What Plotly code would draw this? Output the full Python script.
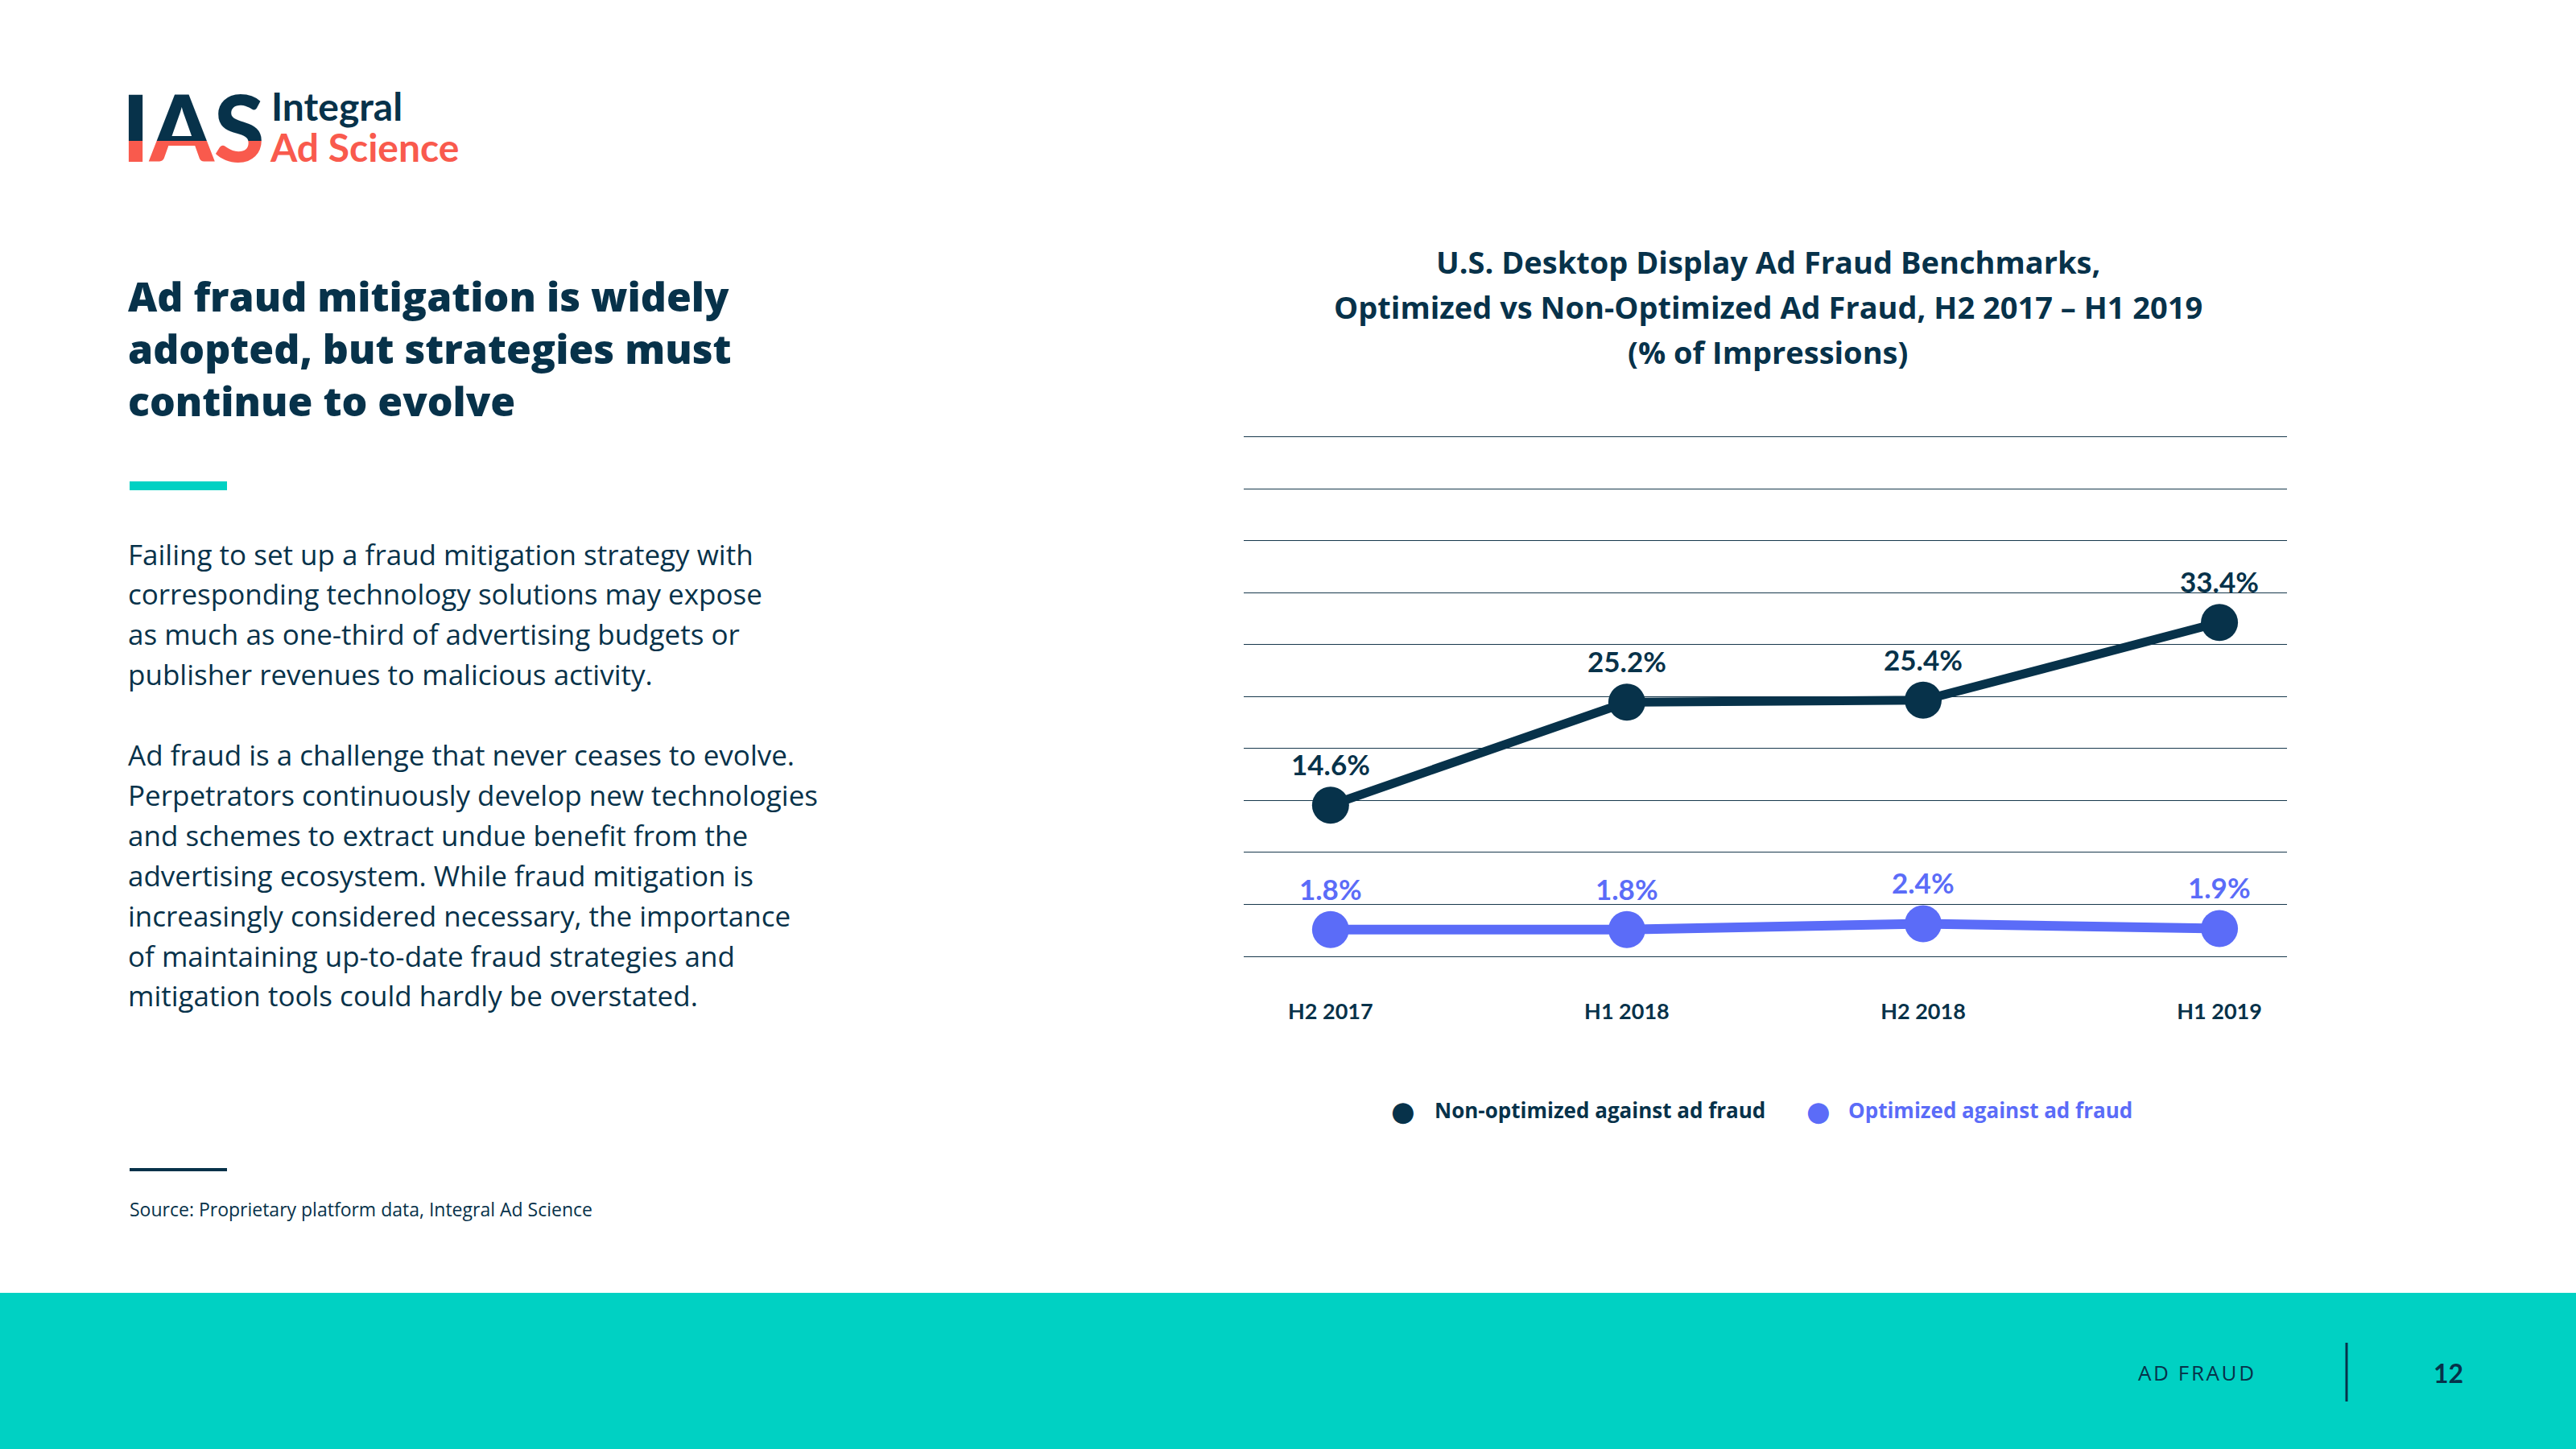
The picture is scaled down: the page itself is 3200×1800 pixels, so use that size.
import plotly.graph_objects as go

# ---------------- data ----------------
periods = ["H2 2017", "H1 2018", "H2 2018", "H1 2019"]
non_optimized = [14.6, 25.2, 25.4, 33.4]
optimized = [1.8, 1.8, 2.4, 1.9]
series_names = ["Non-optimized against ad fraud", "Optimized against ad fraud"]

title_lines = [
    "U.S. Desktop Display Ad Fraud Benchmarks,",
    "Optimized vs Non-Optimized Ad Fraud, H2 2017 \u2013 H1 2019",
    "(% of Impressions)",
]
headline = "Ad fraud mitigation is widely<br>adopted, but strategies must<br>continue to evolve"
body_lines = [
    "Failing to set up a fraud mitigation strategy with",
    "corresponding technology solutions may expose",
    "as much as one-third of advertising budgets or",
    "publisher revenues to malicious activity.",
    "",
    "Ad fraud is a challenge that never ceases to evolve.",
    "Perpetrators continuously develop new technologies",
    "and schemes to extract undue benefit from the",
    "advertising ecosystem. While fraud mitigation is",
    "increasingly considered necessary, the importance",
    "of maintaining up-to-date fraud strategies and",
    "mitigation tools could hardly be overstated.",
]
source_text = "Source: Proprietary platform data, Integral Ad Science"
footer_section = "AD FRAUD"
page_number = "12"

# ---------------- style ----------------
W, H = 3200, 1800
NAVY = "#07324A"
BLUE = "#5B6CF8"
TEAL = "#00D1C3"
CORAL = "#F95A4D"
GRID = "#17384C"
HEAVY = "Lato"
WIDE = "Open Sans"
BODY = "Open Sans"


def px(x):
    return x / W


def py(y):
    return 1 - y / H


fig = go.Figure()

# main chart traces
fig.add_trace(go.Scatter(
    x=periods, y=non_optimized, name=series_names[0], mode="lines+markers",
    line=dict(color=NAVY, width=11), marker=dict(color=NAVY, size=46),
    showlegend=False, hoverinfo="skip", cliponaxis=False,
))
fig.add_trace(go.Scatter(
    x=periods, y=optimized, name=series_names[1], mode="lines+markers",
    line=dict(color=BLUE, width=12), marker=dict(color=BLUE, size=46),
    showlegend=False, hoverinfo="skip", cliponaxis=False,
))

annotations = []
# data labels
for vals, col in ((non_optimized, NAVY), (optimized, BLUE)):
    for p, v in zip(periods, vals):
        annotations.append(dict(
            x=p, y=v, xref="x", yref="y", text=f"{v:.1f}%", showarrow=False,
            yshift=51, font=dict(family=HEAVY, size=35, color=col, weight=700),
        ))

# chart title
for i, t in enumerate(title_lines):
    annotations.append(dict(
        x=px(2196), y=py(325 + 56 * i), xref="paper", yref="paper", text=t,
        showarrow=False, xanchor="center", yanchor="middle",
        font=dict(family=WIDE, size=38, color=NAVY, weight=700),
    ))

# custom legend
legend_items = [
    (1743, 1780, series_names[0], NAVY),
    (2259, 2294, series_names[1], BLUE),
]
for mx, tx, name, col in legend_items:
    annotations.append(dict(
        x=px(mx), y=py(1380), xref="paper", yref="paper", text="\u25cf",
        showarrow=False, xanchor="center", yanchor="middle",
        font=dict(family="DejaVu Sans", size=34, color=col),
    ))
    annotations.append(dict(
        x=px(tx), y=py(1379), xref="paper", yref="paper", text=name,
        showarrow=False, xanchor="left", yanchor="middle",
        font=dict(family=WIDE, size=26, color=col, weight=700),
    ))

# logo words
annotations.append(dict(
    x=px(335), y=py(131), xref="paper", yref="paper", text="Integral",
    showarrow=False, xanchor="left", yanchor="middle",
    font=dict(family=HEAVY, size=48, color=NAVY, weight=700),
))
annotations.append(dict(
    x=px(333), y=py(182), xref="paper", yref="paper", text="Ad Science",
    showarrow=False, xanchor="left", yanchor="middle",
    font=dict(family=HEAVY, size=48, color=CORAL, weight=700),
))

# headline
annotations.append(dict(
    x=px(157), y=py(433), xref="paper", yref="paper", text=headline,
    showarrow=False, xanchor="left", yanchor="middle", align="left",
    font=dict(family=WIDE, size=50, color=NAVY, weight=800),
))

# body text lines
for i, t in enumerate(body_lines):
    if not t:
        continue
    annotations.append(dict(
        x=px(157), y=py(688 + 49.9 * i), xref="paper", yref="paper", text=t,
        showarrow=False, xanchor="left", yanchor="middle",
        font=dict(family=BODY, size=35, color=NAVY),
    ))

# source
annotations.append(dict(
    x=px(159), y=py(1502), xref="paper", yref="paper", text=source_text,
    showarrow=False, xanchor="left", yanchor="middle",
    font=dict(family=BODY, size=23, color=NAVY),
))

# footer texts
annotations.append(dict(
    x=px(2802), y=py(1705), xref="paper", yref="paper",
    text="\u200a".join(footer_section),
    showarrow=False, xanchor="right", yanchor="middle",
    font=dict(family=BODY, size=26, color=NAVY),
))
annotations.append(dict(
    x=px(3041), y=py(1705), xref="paper", yref="paper", text=page_number,
    showarrow=False, xanchor="center", yanchor="middle",
    font=dict(family=HEAVY, size=32, color=NAVY, weight=700),
))

shapes = [
    # teal footer band
    dict(type="rect", xref="paper", yref="paper", x0=0, x1=1, y0=0, y1=py(1606),
         fillcolor=TEAL, line=dict(width=0), layer="below"),
    # footer divider
    dict(type="line", xref="paper", yref="paper", x0=px(2915), x1=px(2915),
         y0=py(1668), y1=py(1741), line=dict(color=NAVY, width=3)),
    # teal accent bar
    dict(type="rect", xref="paper", yref="paper", x0=px(161), x1=px(282),
         y0=py(609), y1=py(598), fillcolor=TEAL, line=dict(width=0)),
    # navy divider above source
    dict(type="rect", xref="paper", yref="paper", x0=px(161), x1=px(282),
         y0=py(1455), y1=py(1451), fillcolor=NAVY, line=dict(width=0)),
]

# two-tone IAS logo mark: same text clipped into a navy (top) and coral (bottom) band
logo_split = 175
for ax_id, (top, bot, col) in zip(("2", "3"), ((95, logo_split, NAVY), (logo_split, 215, CORAL))):
    fig.add_trace(go.Scatter(
        x=[240], y=[-172], mode="text", text=["IAS"], textposition="middle center",
        textfont=dict(family=HEAVY, size=114, color=col, weight=900),
        xaxis="x" + ax_id, yaxis="y" + ax_id, showlegend=False, hoverinfo="skip",
        cliponaxis=True,
    ))
    fig.update_layout(**{
        "xaxis" + ax_id: dict(domain=[px(140), px(340)], range=[140, 340], visible=False,
                              fixedrange=True),
        "yaxis" + ax_id: dict(domain=[py(bot), py(top)], range=[-bot, -top], visible=False,
                              fixedrange=True),
    })

# axes for the main chart
fig.update_layout(
    width=W, height=H,
    margin=dict(l=0, r=0, t=0, b=0),
    paper_bgcolor="white", plot_bgcolor="rgba(0,0,0,0)",
    xaxis=dict(
        domain=[px(1545), px(2841)], range=[-0.293, 3.228], type="category",
        showgrid=False, zeroline=False, showline=False, ticks="",
        tickfont=dict(family=HEAVY, size=27, color=NAVY, weight=700),
        ticklabelstandoff=43, fixedrange=True,
    ),
    yaxis=dict(
        domain=[py(1195), py(535)], range=[-1.54, 53.14],
        showgrid=True, gridcolor=GRID, gridwidth=1.3, zeroline=False,
        showticklabels=False, ticks="", tick0=-0.96, dtick=5.344, fixedrange=True,
    ),
    annotations=annotations,
    shapes=shapes,
    showlegend=False,
)

fig.write_html("out.html", config={"displayModeBar": False},
               post_script="document.body.style.margin='0';")
